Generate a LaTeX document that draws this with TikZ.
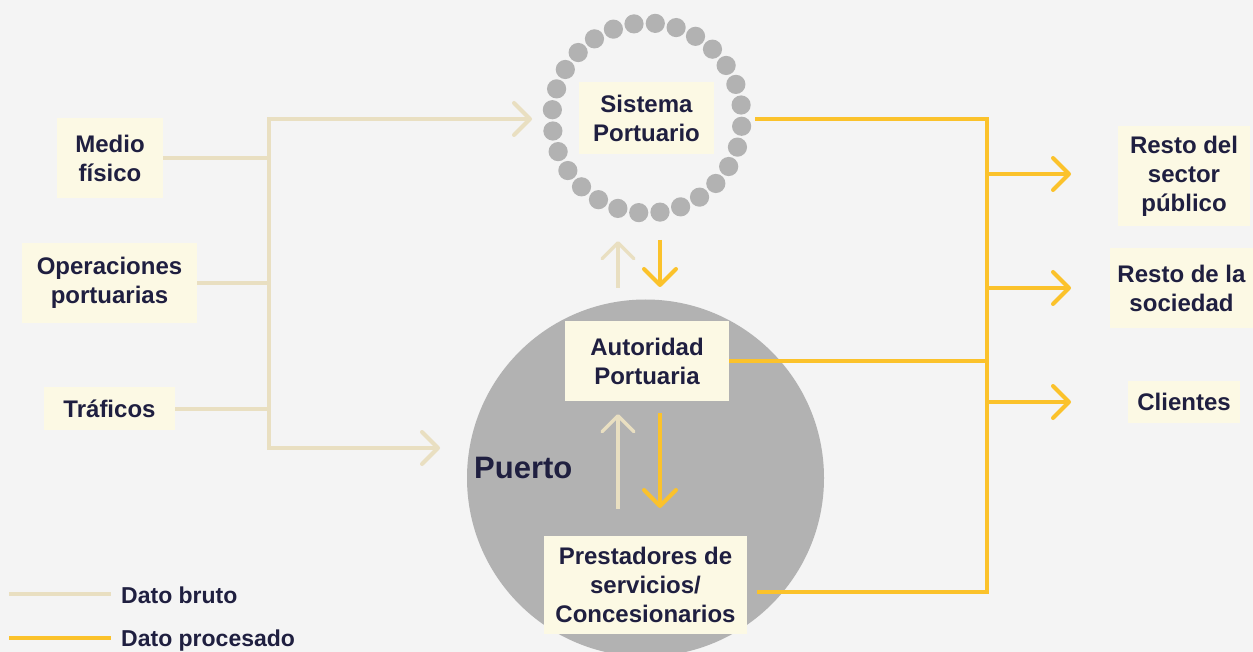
\documentclass[tikz,border=0pt]{standalone}
\usepackage{fontspec}
\setmainfont{Liberation Sans}
\usetikzlibrary{arrows.meta,calc}
\definecolor{bg}{HTML}{F4F4F4}
\definecolor{cream}{HTML}{FCF9E4}
\definecolor{rawc}{HTML}{E9DFC1}
\definecolor{procc}{HTML}{FBC22B}
\definecolor{grayc}{HTML}{B2B2B2}
\definecolor{navy}{HTML}{1F1F40}
\begin{document}
\begin{tikzpicture}[x=1pt,y=-1pt,
  box/.style={fill=cream,inner sep=0pt,align=center,text=navy,font=\bfseries\fontsize{24}{29}\selectfont},
  rawline/.style={draw=rawc,line width=4pt},
  procline/.style={draw=procc,line width=4pt},
  chev/.style={-{Straight Barb[length=16pt,width=32pt,round]}},
  legtext/.style={text=navy,font=\bfseries\fontsize{23}{28}\selectfont,inner sep=0pt}]
\fill[bg] (0,0) rectangle (1253,652);
\useasboundingbox (0,0) rectangle (1253,652);

% Puerto circle
\fill[grayc] (645.5,478) circle (178.5);
\node[circle,minimum size=357pt,inner sep=0pt] (puerto) at (645.5,478) {};
\node[text=navy,font=\bfseries\fontsize{31}{36}\selectfont,inner sep=0pt,anchor=base west] (puertolbl) at (474,478) {Puerto};

% Dotted ring
\node[circle,minimum size=209pt,inner sep=0pt] (ring) at (647,118) {};
\foreach \i in {0,...,27} \fill[grayc] ($(647,118)+({95+\i*12.857}:95)$) circle (9.6);

% Boxes
\node[box,minimum width=106pt,minimum height=80pt] (medio) at (110,158) {Medio\\f\'isico};
\node[box,minimum width=175pt,minimum height=80pt] (oper) at (109.5,283) {Operaciones\\portuarias};
\node[box,minimum width=131pt,minimum height=43pt] (traf) at (109.5,408.5) {Tr\'aficos};
\node[box,minimum width=135pt,minimum height=72pt] (sistema) at (646.5,118) {Sistema\\Portuario};
\node[box,minimum width=164pt,minimum height=80pt] (autoridad) at (647,361) {Autoridad\\Portuaria};
\node[box,minimum width=203pt,minimum height=98pt] (prest) at (645.5,585) {Prestadores de\\servicios/\\Concesionarios};
\node[box,minimum width=132pt,minimum height=100pt] (rpub) at (1184,176) {Resto del\\sector\\p\'ublico};
\node[box,minimum width=143pt,minimum height=80pt] (rsoc) at (1181.5,288) {Resto de la\\sociedad};
\node[box,minimum width=112pt,minimum height=42pt] (cli) at (1184,402) {Clientes};

% Raw data bus
\coordinate (rawtop) at (269,119);
\coordinate (rawbot) at (269,448);
\coordinate (sisin) at (532,119);
\coordinate (puertoin) at (440,448);
\draw[rawline,{Straight Barb[length=16pt,width=32pt,round]}-{Straight Barb[length=16pt,width=32pt,round]}] (sisin) -- (rawtop) -- (rawbot) -- (puertoin);
\draw[rawline] (medio.east) -- (medio.east -| rawtop);
\draw[rawline] (oper.east) -- (oper.east -| rawtop);
\draw[rawline] (traf.east) -- (traf.east -| rawtop);

% Processed data bus
\coordinate (sisout) at (755,119);
\coordinate (ptop) at (987,119);
\coordinate (pbot) at (987,592);
\coordinate (prestout) at (757,592);
\draw[procline] (sisout) -- (ptop) -- (pbot) -- (prestout);
\draw[procline] (autoridad.east) -- (autoridad.east -| ptop);
\coordinate (b1) at (987,174);
\coordinate (b2) at (987,288);
\coordinate (b3) at (987,402);
\coordinate (t1) at (1071,174);
\coordinate (t2) at (1071,288);
\coordinate (t3) at (1071,402);
\draw[procline,chev] (b1) -- (t1);
\draw[procline,chev] (b2) -- (t2);
\draw[procline,chev] (b3) -- (t3);

% Vertical exchange arrows
\coordinate (u1s) at (618,288);
\coordinate (u1e) at (618,241);
\coordinate (d1s) at (660,240);
\coordinate (d1e) at (660,287);
\draw[rawline,chev,line width=3.5pt] (u1s) -- (u1e);
\draw[procline,chev] (d1s) -- (d1e);
\coordinate (u2s) at (618,509);
\coordinate (u2e) at (618,414);
\coordinate (d2s) at (660,413);
\coordinate (d2e) at (660,508);
\draw[rawline,chev,line width=3.5pt] (u2s) -- (u2e);
\draw[procline,chev] (d2s) -- (d2e);

% Legend
\coordinate (l1a) at (9,594);
\coordinate (l1b) at (111,594);
\coordinate (l2a) at (9,638);
\coordinate (l2b) at (111,638);
\draw[rawline] (l1a) -- (l1b);
\draw[procline] (l2a) -- (l2b);
\node[legtext,anchor=base west] (leg1) at (121,603) {Dato bruto};
\node[legtext,anchor=base west] (leg2) at (121,646) {Dato procesado};
\end{tikzpicture}
\end{document}
